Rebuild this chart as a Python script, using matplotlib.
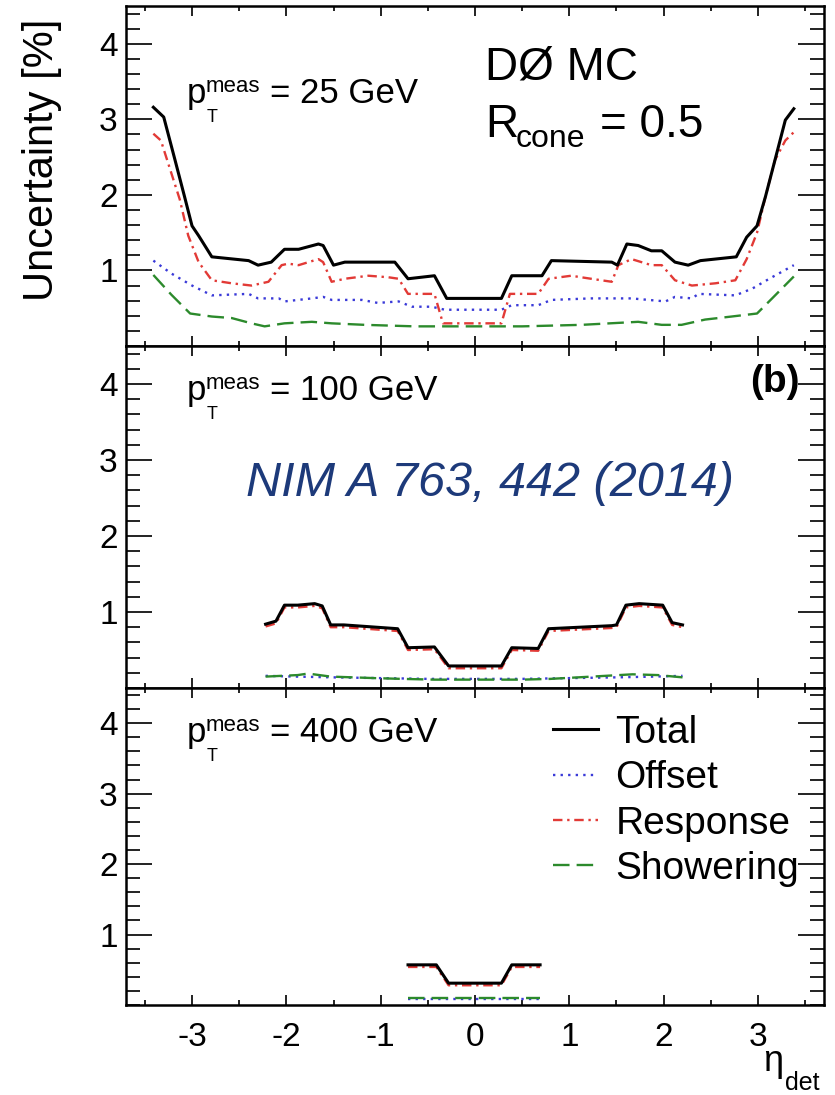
import matplotlib
matplotlib.use("Agg")
import matplotlib.pyplot as plt
from matplotlib.ticker import MultipleLocator, FixedLocator

plt.rcParams["font.family"] = ["Liberation Sans", "DejaVu Sans"]
plt.rcParams["axes.unicode_minus"] = False

W, H = 835, 1095

# ---- data: eta_det vs uncertainty [%] ----
# pT = 25 GeV
eta25_tot = [-3.41, -3.30, -3.18, -3.08, -3.00, -2.93, -2.79, -2.40, -2.30, -2.16, -2.02, -1.87,
             -1.66, -1.61, -1.50, -1.38, -0.85, -0.71, -0.43, -0.30, 0.28, 0.39, 0.71, 0.81,
             1.45, 1.51, 1.61, 1.73, 1.87, 1.98, 2.12, 2.26, 2.39, 2.77, 2.88, 2.99, 3.08,
             3.18, 3.29, 3.38]
tot25 = [3.16, 3.03, 2.46, 1.98, 1.59, 1.46, 1.18, 1.13, 1.07, 1.11, 1.28, 1.28,
         1.35, 1.33, 1.07, 1.11, 1.11, 0.89, 0.93, 0.63, 0.63, 0.93, 0.93, 1.13,
         1.11, 1.07, 1.35, 1.33, 1.26, 1.26, 1.11, 1.07, 1.13, 1.18, 1.44, 1.59, 1.98,
         2.46, 2.99, 3.14]
eta25_resp = [-3.41, -3.33, -3.22, -3.13, -3.04, -2.93, -2.79, -2.58, -2.37, -2.19, -2.05, -1.98,
              -1.87, -1.66, -1.61, -1.52, -1.38, -1.13, -0.92, -0.81, -0.71, -0.43, -0.34, 0.28,
              0.37, 0.67, 0.78, 1.02, 1.23, 1.45, 1.52, 1.66, 1.87, 1.98, 2.12, 2.30, 2.55,
              2.76, 2.88, 2.99, 3.08, 3.18, 3.29, 3.38]
resp25 = [2.81, 2.72, 2.29, 1.94, 1.46, 1.11, 0.87, 0.83, 0.80, 0.85, 1.07, 1.09,
          1.07, 1.15, 1.11, 0.85, 0.89, 0.93, 0.91, 0.89, 0.69, 0.69, 0.30, 0.30,
          0.69, 0.69, 0.89, 0.93, 0.89, 0.85, 1.07, 1.15, 1.07, 1.07, 0.87, 0.80, 0.83,
          0.87, 1.15, 1.50, 1.98, 2.46, 2.72, 2.83]
eta25_off = [-3.41, -3.22, -3.00, -2.79, -2.40, -2.30, -2.08, -2.02, -1.73, -1.61, -1.52, -1.20,
             -1.03, -0.81, -0.67, -0.46, -0.32, 0.28, 0.39, 0.67, 0.81, 1.23, 1.66, 2.02,
             2.12, 2.30, 2.37, 2.76, 2.94, 3.12, 3.38]
off25 = [1.13, 0.96, 0.80, 0.67, 0.69, 0.63, 0.63, 0.59, 0.63, 0.65, 0.61, 0.61,
         0.57, 0.59, 0.52, 0.52, 0.48, 0.48, 0.54, 0.54, 0.61, 0.63, 0.63, 0.59,
         0.65, 0.63, 0.69, 0.67, 0.76, 0.89, 1.07]
eta25_show = [-3.41, -3.22, -3.02, -2.79, -2.58, -2.37, -2.23, -2.02, -1.73, -1.52, -1.17, -0.64,
              0.50, 1.13, 1.73, 1.98, 2.19, 2.44, 2.72, 2.99, 3.15, 3.38]
show25 = [0.94, 0.68, 0.43, 0.39, 0.37, 0.30, 0.26, 0.30, 0.32, 0.30, 0.28, 0.26,
          0.26, 0.28, 0.32, 0.28, 0.28, 0.35, 0.39, 0.43, 0.63, 0.92]

# pT = 100 GeV
eta100 = [-2.22, -2.11, -2.02, -1.88, -1.70, -1.62, -1.53, -1.39, -0.82, -0.71, -0.43, -0.28,
          0.28, 0.39, 0.67, 0.78, 1.45, 1.50, 1.60, 1.74, 1.99, 2.09, 2.20]
tot100 = [0.84, 0.88, 1.09, 1.09, 1.11, 1.08, 0.83, 0.83, 0.78, 0.53, 0.54, 0.29,
          0.29, 0.53, 0.52, 0.78, 0.82, 0.83, 1.09, 1.11, 1.09, 0.86, 0.83]
resp100 = [0.81, 0.85, 1.06, 1.06, 1.08, 1.05, 0.80, 0.80, 0.75, 0.50, 0.51, 0.26,
           0.26, 0.50, 0.49, 0.75, 0.79, 0.80, 1.06, 1.08, 1.06, 0.83, 0.80]
eta100_off = [-2.22, -1.90, -1.50, -1.00, -0.50, 0.00, 0.50, 1.00, 1.50, 1.90, 2.20]
off100 = [0.16, 0.15, 0.14, 0.13, 0.12, 0.12, 0.12, 0.13, 0.14, 0.15, 0.16]
eta100_show = [-2.22, -1.88, -1.77, -1.53, -1.06, -0.78, -0.43, 0.13, 0.50, 0.80, 1.24, 1.67,
               1.94, 2.20]
show100 = [0.15, 0.17, 0.19, 0.15, 0.13, 0.12, 0.11, 0.11, 0.11, 0.12, 0.15, 0.18,
           0.17, 0.14]

# pT = 400 GeV
eta400 = [-0.71, -0.41, -0.28, 0.28, 0.39, 0.69]
tot400 = [0.57, 0.57, 0.31, 0.31, 0.57, 0.57]
resp400 = [0.54, 0.54, 0.28, 0.28, 0.54, 0.54]
eta400_flat = [-0.71, 0.69]
off400 = [0.08, 0.08]
show400 = [0.10, 0.10]

panels = [
    ("25", (eta25_tot, tot25), (eta25_off, off25), (eta25_resp, resp25), (eta25_show, show25)),
    ("100", (eta100, tot100), (eta100_off, off100), (eta100, resp100), (eta100_show, show100)),
    ("400", (eta400, tot400), (eta400_flat, off400), (eta400, resp400), (eta400_flat, show400)),
]

# frame edges in pixels (top, bottom)
frames = [(6, 346), (346, 688), (688, 1005)]
label_base = [103, 400, 742]
x_left, x_right = 126, 824

RED = "#e23a36"
BLUE = "#3a3ad8"
GREEN = "#2c8a2c"


def fx(px):
    return px / W


def fy(py):
    return 1 - py / H


def pt_label(fig, x, base, energy):
    fig.text(fx(x), fy(base), "p", fontsize=25, ha="left", va="baseline")
    fig.text(fx(x + 19), fy(base - 11), "meas", fontsize=16, ha="left", va="baseline")
    fig.text(fx(x + 20), fy(base + 19), "T", fontsize=13, ha="left", va="baseline")
    fig.text(fx(x + 83), fy(base), "= %s GeV" % energy, fontsize=25, ha="left", va="baseline")


fig = plt.figure(figsize=(W / 100, H / 100), dpi=100)

axes = []
for i, (energy, tot, off, resp, show) in enumerate(panels):
    top, bot = frames[i]
    ax = fig.add_axes([fx(x_left), fy(bot), (x_right - x_left) / W, (bot - top) / H])
    ax.plot(*tot, color="black", lw=2.2, label="Total", zorder=5)
    ax.plot(*off, color=BLUE, lw=1.7, ls=(0, (1, 2.2)), label="Offset", zorder=3)
    ax.plot(*resp, color=RED, lw=1.7, ls=(0, (4, 2, 1, 2)), label="Response", zorder=4)
    ax.plot(*show, color=GREEN, lw=1.7, ls=(0, (7, 3)), label="Showering", zorder=3)

    ax.set_xlim(-3.7, 3.7)
    ax.set_ylim(0, 4.5)
    ax.xaxis.set_major_locator(MultipleLocator(1))
    ax.xaxis.set_minor_locator(MultipleLocator(0.5))
    ax.yaxis.set_major_locator(FixedLocator([1, 2, 3, 4]))
    ax.yaxis.set_minor_locator(MultipleLocator(0.2))
    ax.tick_params(which="both", direction="in", top=True, right=True, width=1.4,
                   labelsize=24, color="#222222")
    ax.tick_params(axis="y", which="major", length=19, pad=6)
    ax.tick_params(axis="y", which="minor", length=10)
    ax.tick_params(axis="x", which="major", length=7, pad=12)
    ax.tick_params(axis="x", which="minor", length=3.5)
    for s in ax.spines.values():
        s.set_linewidth(1.8)
    if i < 2:
        ax.tick_params(axis="x", labelbottom=False)
    axes.append(ax)

    pt_label(fig, 187, label_base[i], energy)

# top panel labels
fig.text(fx(485), fy(80), "DØ MC", fontsize=33, ha="left", va="baseline")
fig.text(fx(485), fy(137), "R", fontsize=33, ha="left", va="baseline")
fig.text(fx(516), fy(147), "cone", fontsize=23, ha="left", va="baseline")
fig.text(fx(600), fy(137), "= 0.5", fontsize=33, ha="left", va="baseline")

# middle panel labels
fig.text(fx(800), fy(392), "(b)", fontsize=28, fontweight="bold", ha="right", va="baseline")
fig.text(fx(490), fy(484), "NIM A 763, 442 (2014)", fontsize=35, style="italic",
         color="#1d3a7a", ha="center", va="center")

# legend in bottom panel
axes[2].legend(loc="upper left", bbox_to_anchor=(0.612, 0.915), frameon=False,
               fontsize=28, handlelength=1.15, handletextpad=0.45, labelspacing=0.24,
               borderpad=0, borderaxespad=0)

# axis titles
fig.text(fx(42), fy(160), "Uncertainty [%]", fontsize=30, rotation=90, ha="center", va="center")
fig.text(fx(763), fy(1071), "η", fontsize=26, ha="left", va="baseline")
fig.text(fx(785), fy(1090), "det", fontsize=18, ha="left", va="baseline")

fig.savefig("out.png", dpi=100)
